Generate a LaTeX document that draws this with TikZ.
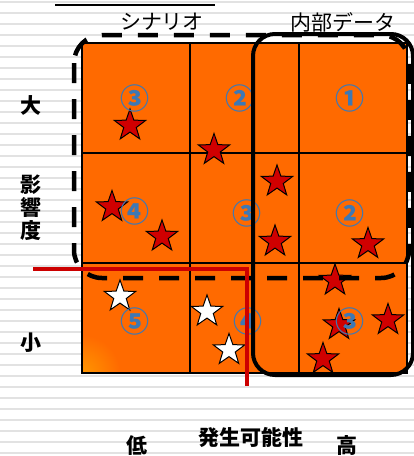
\documentclass[tikz,border=0pt]{standalone}
\usepackage{fontspec}
\newfontfamily\cjk{Noto Sans CJK JP}
\usetikzlibrary{shapes.geometric}
\definecolor{orfill}{RGB}{255,106,0}
\definecolor{oryel}{RGB}{255,150,0}
\definecolor{numblue}{RGB}{62,120,180}
\definecolor{starred}{RGB}{208,0,0}
\definecolor{linered}{RGB}{204,0,0}
\definecolor{stripe}{RGB}{226,226,226}
\begin{document}
\begin{tikzpicture}[x=1pt,y=-1pt,
  redstar/.style={star, star points=5, star point ratio=2.5, minimum size=33pt, inner sep=0pt, draw=black, line width=1pt, fill=starred},
  whitestar/.style={redstar, fill=white},
  num/.style={text=numblue, font=\cjk\bfseries\fontsize{29}{29}\selectfont, inner sep=0pt},
  axislabel/.style={font=\cjk\bfseries\fontsize{21}{23}\selectfont, inner sep=0pt, align=center},
  grouplabel/.style={font=\cjk\fontsize{21}{21}\selectfont, inner sep=0pt},
  gridline/.style={draw=black, line width=1.3pt},
  redline/.style={draw=linered, line width=4pt},
]
\useasboundingbox (0,0) rectangle (414,456);
\fill[white] (0,0) rectangle (414,456);
\foreach \k in {0,...,41} \draw[stripe, line width=2.5pt] (0,2+11*\k) -- (414,2+11*\k);

% title underline
\draw[line width=1.8pt] (55,5) -- (215,5);

% grid
\fill[orfill] (82,43) rectangle (407,373);
\begin{scope}
  \clip (82,43) rectangle (407,373);
  \shade[inner color=oryel, outer color=orfill] (82,373) circle (38);
\end{scope}
\draw[gridline] (82,43) rectangle (407,373);
\draw[gridline] (190,43) -- (190,373);
\draw[gridline] (299,43) -- (299,373);
\draw[gridline] (82,153) -- (407,153);
\draw[gridline] (82,263) -- (407,263);

% stars
\node[redstar] (s1) at (130,125.5) {};
\node[redstar] (s2) at (214,150) {};
\node[redstar] (s3) at (277,181.5) {};
\node[redstar] (s4) at (275,241.5) {};
\node[redstar] (s5) at (368,244) {};
\node[redstar] (s6) at (335,280.5) {};
\node[redstar] (s7) at (339,325) {};
\node[redstar] (s8) at (388,320) {};
\node[redstar] (s9) at (323,359) {};
\node[redstar] (s10) at (112,207) {};
\node[redstar] (s11) at (162,236.5) {};
\node[whitestar] (w1) at (120,296.5) {};
\node[whitestar] (w2) at (207,311.5) {};
\node[whitestar] (w3) at (229,350) {};

% circled numbers
\node[num] (n11) at (135,98) {③};
\node[num] (n12) at (240,98) {②};
\node[num] (n13) at (350,98) {①};
\node[num] (n21) at (135,211) {④};
\node[num] (n22) at (247,213) {③};
\node[num] (n23) at (350,213) {②};
\node[num] (n31) at (135,321) {⑤};
\node[num] (n32) at (248,321) {④};
\node[num] (n33) at (350,321) {③};

% groups
\draw[line width=4pt, rounded corners=22pt] (253,34) rectangle (413,375);
\draw[line width=4.5pt, dash pattern=on 20pt off 16pt, rounded corners=28pt] (74,35) rectangle (409,278);

% red threshold line
\coordinate (r1) at (33,269);
\coordinate (r2) at (247,269);
\coordinate (r3) at (247,386);
\draw[redline] (r1) -- (r2) -- (r3);

% labels
\node[grouplabel] (scen) at (162,22) {シナリオ};
\node[grouplabel] (inner) at (343,22) {内部データ};
\node[axislabel] (big) at (31,105) {大};
\node[axislabel] (impact) at (31,208) {影\\響\\度};
\node[axislabel] (small) at (31,343) {小};
\node[axislabel] (low) at (137,446) {低};
\node[axislabel] (prob) at (251,437) {発生可能性};
\node[axislabel] (high) at (347,446) {高};
\end{tikzpicture}
\end{document}
